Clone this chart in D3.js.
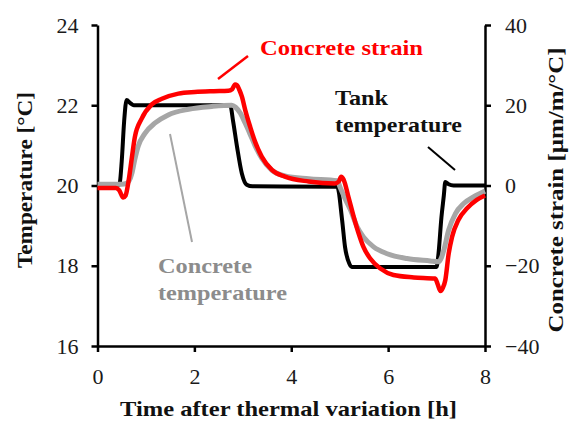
<!DOCTYPE html>
<html><head><meta charset="utf-8">
<script src="https://cdn.jsdelivr.net/npm/d3@7"></script>
<style>
html,body{margin:0;padding:0;background:#fff;}
svg{display:block;}
text{font-family:"Liberation Serif","Times New Roman",serif;}
</style></head>
<body>
<svg id="chart" width="569" height="426"></svg>
<script>
// ---- data ----
const xTicks = [0, 2, 4, 6, 8];
const leftTicks = [16, 18, 20, 22, 24];
const rightTicks = [-40, -20, 0, 20, 40];

const tankTime = [0, 0.45, 0.5, 0.55, 0.6, 0.68, 0.75, 2.74, 2.8, 2.88, 2.98, 3.08, 3.2, 4.95, 5.05, 5.11, 5.2, 5.25, 7.0, 7.04, 7.1, 7.15, 7.18, 7.25, 7.35, 8.0];
const tankTemp = [20.02, 20.02, 20.6, 21.6, 22.13, 22.05, 22.0, 22.0, 21.6, 20.97, 20.3, 20.02, 19.98, 19.97, 19.14, 18.47, 18.05, 17.97, 17.97, 18.3, 19.2, 19.75, 20.09, 20.03, 20.0, 20.0];

const concTime = [0, 0.5, 0.6, 0.71, 0.77, 0.84, 0.98, 1.19, 1.46, 1.88, 2.36, 2.77, 2.85, 2.95, 3.05, 3.15, 3.25, 3.39, 3.6, 3.87, 4.36, 4.95, 5.01, 5.1, 5.22, 5.36, 5.49, 5.7, 5.98, 6.39, 6.87, 7.04, 7.1, 7.15, 7.25, 7.39, 7.56, 7.77, 8.0];
const concTemp = [20.03, 20.03, 20.05, 20.3, 20.65, 20.98, 21.3, 21.56, 21.76, 21.9, 21.97, 22.0, 21.95, 21.8, 21.55, 21.28, 21.0, 20.68, 20.38, 20.24, 20.17, 20.12, 19.95, 19.7, 19.4, 18.97, 18.72, 18.47, 18.3, 18.18, 18.12, 18.1, 18.2, 18.39, 18.89, 19.3, 19.55, 19.72, 19.86];

const strainTime = [0, 0.38, 0.45, 0.53, 0.58, 0.64, 0.71, 0.77, 0.91, 1.12, 1.33, 1.67, 2.01, 2.4, 2.7, 2.78, 2.84, 2.88, 2.93, 2.98, 3.05, 3.15, 3.25, 3.39, 3.6, 3.87, 4.36, 4.9, 4.98, 5.03, 5.08, 5.18, 5.29, 5.39, 5.49, 5.63, 5.84, 6.11, 6.53, 6.97, 7.02, 7.08, 7.13, 7.18, 7.25, 7.32, 7.45, 7.63, 7.83, 8.0];
const strainVal = [-0.6, -0.6, -1.2, -3.0, -2.5, 1.0, 7.0, 12.0, 16.6, 20.2, 21.6, 22.9, 23.3, 23.5, 23.6, 24.0, 25.2, 25.0, 23.8, 22.2, 18.8, 14.7, 11.0, 7.2, 3.9, 2.2, 1.0, 0.5, 1.0, 2.2, 1.5, -2.8, -7.8, -11.9, -15.3, -18.2, -20.7, -22.3, -22.9, -23.2, -24.5, -26.3, -25.5, -23.6, -17.0, -12.8, -8.6, -5.7, -3.6, -2.5];

const labels = {
  xTitle: "Time after thermal variation  [h]",
  yTitle: "Temperature [°C]",
  y2Title: "Concrete strain [µm/m/°C]",
  strain: "Concrete strain",
  tank: ["Tank", "temperature"],
  conc: ["Concrete", "temperature"]
};

// ---- layout ----
const svg = d3.select("#chart");
const x = d3.scaleLinear().domain([0, 8]).range([97.5, 485]);
const y = d3.scaleLinear().domain([16, 24]).range([346, 25]);
const y2 = d3.scaleLinear().domain([-40, 40]).range([346, 25]);

const fontSize = 22;

function styleAxis(g) {
  g.selectAll(".domain").attr("stroke", "#000").attr("stroke-width", 2.5);
  g.selectAll(".tick line").attr("stroke", "#000").attr("stroke-width", 2.5);
  g.selectAll(".tick text").attr("fill", "#1a1a1a")
    .style("font-family", '"Liberation Serif", serif').style("font-size", fontSize + "px");
}

// axes
svg.append("g").attr("transform", `translate(0,${y(16)})`)
  .call(d3.axisBottom(x).tickValues(xTicks).tickSize(6).tickSizeOuter(0).tickPadding(16).tickFormat(d3.format("d")))
  .call(styleAxis);
svg.append("g").attr("transform", `translate(${x(0)},0)`)
  .call(d3.axisLeft(y).tickValues(leftTicks).tickSize(6).tickSizeOuter(0).tickPadding(13).tickFormat(d3.format("d")))
  .call(styleAxis);
svg.append("g").attr("transform", `translate(${x(8)},0)`)
  .call(d3.axisRight(y2).tickValues(rightTicks).tickSize(6).tickSizeOuter(0).tickPadding(14).tickFormat(d3.format("d")))
  .call(styleAxis);

// series
const line = d3.line().curve(d3.curveMonotoneX);
const tankPts = tankTime.map((t, i) => [x(t), y(tankTemp[i])]);
const concPts = concTime.map((t, i) => [x(t), y(concTemp[i])]);
const strainPts = strainTime.map((t, i) => [x(t), y2(strainVal[i])]);

svg.append("path").attr("d", line(tankPts)).attr("fill", "none")
  .attr("stroke", "#000").attr("stroke-width", 4).attr("stroke-linejoin", "round");
svg.append("path").attr("d", line(concPts)).attr("fill", "none")
  .attr("stroke", "#a6a6a6").attr("stroke-width", 5).attr("stroke-linejoin", "round");
svg.append("path").attr("d", line(strainPts)).attr("fill", "none")
  .attr("stroke", "#ff0000").attr("stroke-width", 4.5).attr("stroke-linejoin", "round");

// axis titles
svg.append("text").attr("x", (120 + 457) / 2).attr("y", 416)
  .attr("text-anchor", "middle").attr("font-weight", "bold").attr("font-size", 21)
  .attr("textLength", 337).attr("lengthAdjust", "spacingAndGlyphs")
  .attr("fill", "#111").text(labels.xTitle);
svg.append("text").attr("transform", "translate(32,180) rotate(-90)")
  .attr("text-anchor", "middle").attr("font-weight", "bold").attr("font-size", 21)
  .attr("textLength", 176).attr("lengthAdjust", "spacingAndGlyphs")
  .attr("fill", "#111").text(labels.yTitle);
svg.append("text").attr("transform", "translate(563,190) rotate(-90)")
  .attr("text-anchor", "middle").attr("font-weight", "bold").attr("font-size", 20)
  .attr("textLength", 285).attr("lengthAdjust", "spacingAndGlyphs")
  .attr("fill", "#111").text(labels.y2Title);

// annotations (positioned in data units)
function annLine(t1, v1, t2, v2, color, w) {
  svg.append("line").attr("x1", x(t1)).attr("y1", y(v1)).attr("x2", x(t2)).attr("y2", y(v2))
    .attr("stroke", color).attr("stroke-width", w);
}
function annText(t, v, str, color, len) {
  svg.append("text").attr("x", x(t)).attr("y", y(v)).attr("font-weight", "bold")
    .attr("font-size", fontSize).attr("fill", color)
    .attr("textLength", len).attr("lengthAdjust", "spacingAndGlyphs").text(str);
}
annLine(2.488, 22.654, 3.107, 23.227, "#ff0000", 2.5);
annText(3.355, 23.25, labels.strain, "#ff0000", 163);

annLine(6.823, 20.96, 7.381, 20.386, "#000", 2);
annText(4.903, 22.0, labels.tank[0], "#111", 53);
annText(4.903, 21.33, labels.tank[1], "#111", 127);

annLine(1.497, 21.283, 1.951, 18.592, "#a6a6a6", 2);
annText(1.249, 17.82, labels.conc[0], "#8c8c8c", 94);
annText(1.249, 17.146, labels.conc[1], "#8c8c8c", 129);
</script>
</body></html>
